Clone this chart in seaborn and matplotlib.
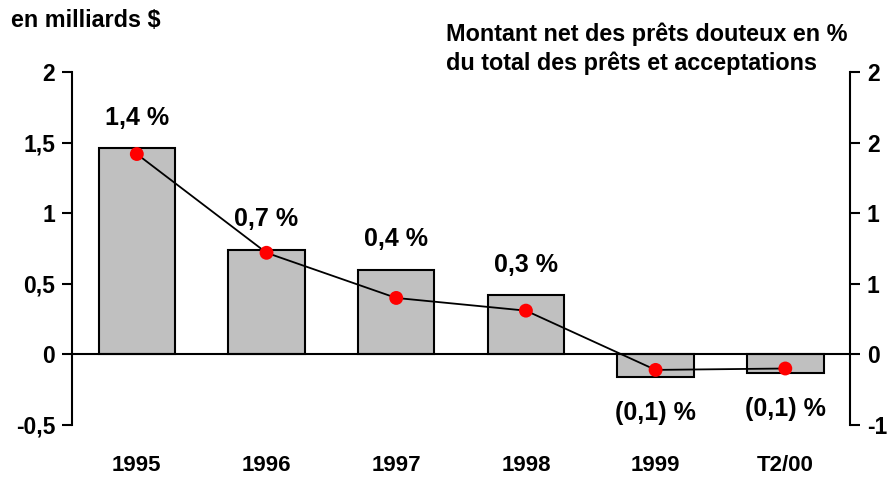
import numpy as np
import pandas as pd
import matplotlib
matplotlib.use("Agg")
import matplotlib.pyplot as plt
import seaborn as sns

# data
periods = ["1995", "1996", "1997", "1998", "1999", "T2/00"]
net_impaired_bn = [1.46, 0.74, 0.60, 0.42, -0.16, -0.13]   # bars, left axis
pct_of_loans = [1.42, 0.72, 0.40, 0.31, -0.11, -0.10]      # line, right axis
pct_labels = ["1,4 %", "0,7 %", "0,4 %", "0,3 %", "(0,1) %", "(0,1) %"]
left_ticks = [-0.5, 0, 0.5, 1, 1.5, 2]
left_ticklabels = ["-0,5", "0", "0,5", "1", "1,5", "2"]
right_ticklabels = ["-1", "0", "1", "1", "2", "2"]

sns.set_theme(style="white")
plt.rcParams["font.family"] = ["Liberation Sans", "DejaVu Sans"]
plt.rcParams["font.weight"] = "bold"
plt.rcParams["text.color"] = "black"
plt.rcParams["xtick.color"] = "black"
plt.rcParams["ytick.color"] = "black"

df = pd.DataFrame({"Period": periods, "Amount": net_impaired_bn})

fig = plt.figure(figsize=(8.93, 4.78), dpi=100)
ax = fig.add_axes([0.0806, 0.111, 0.8714, 0.738])

sns.barplot(data=df, x="Period", y="Amount", color="#C0C0C0", width=0.59,
            edgecolor="black", linewidth=1.5, saturation=1, ax=ax)
ax.set_xlim(-0.5, len(periods) - 0.5)
ax.set_ylim(-0.5, 2)
ax.axhline(0, color="black", lw=1.5, zorder=3)
ax.set_yticks(left_ticks)
ax.set_yticklabels(left_ticklabels)
ax.set_xlabel("")
ax.set_ylabel("")
ax.tick_params(axis="y", left=True, length=7, width=1.5, labelsize=16.5, pad=5)
ax.tick_params(axis="x", bottom=False, labelsize=16, pad=16)
for s in ["top", "right", "bottom"]:
    ax.spines[s].set_visible(False)
ax.spines["left"].set_linewidth(1.5)
ax.spines["left"].set_color("black")
for lbl in ax.get_xticklabels() + ax.get_yticklabels():
    lbl.set_fontweight("bold")

ax2 = ax.twinx()
xs = np.arange(len(periods))
sns.lineplot(x=xs, y=pct_of_loans, color="black", lw=1.3, ax=ax2, zorder=4)
sns.scatterplot(x=xs, y=pct_of_loans, color="red", s=100, edgecolor="none",
                ax=ax2, zorder=5)
ax2.set_xlim(-0.5, len(periods) - 0.5)
ax2.set_ylim(-0.5, 2)
ax2.set_yticks(left_ticks)
ax2.set_yticklabels(right_ticklabels)
ax2.tick_params(axis="y", right=True, length=7, width=1.5, labelsize=16.5, pad=5)
for s in ["top", "left", "bottom"]:
    ax2.spines[s].set_visible(False)
ax2.spines["right"].set_linewidth(1.5)
ax2.spines["right"].set_color("black")
for lbl in ax2.get_yticklabels():
    lbl.set_fontweight("bold")

# percentage labels above / below the bars
for i, (b, p, t) in enumerate(zip(net_impaired_bn, pct_of_loans, pct_labels)):
    if b >= 0:
        ax2.annotate(t, (i, max(b, p)), xytext=(0, 22), textcoords="offset points",
                     ha="center", va="center", fontsize=18, fontweight="bold")
    else:
        ax2.annotate(t, (i, min(b, p)), xytext=(0, -26), textcoords="offset points",
                     ha="center", va="center", fontsize=18, fontweight="bold")

fig.text(0.012, 0.958, "en milliards $", fontsize=16.8, fontweight="bold",
         va="center", ha="left")
fig.text(0.5, 0.898, "Montant net des prêts douteux en %\ndu total des prêts et acceptations",
         fontsize=16.8, fontweight="bold", va="center", ha="left", linespacing=1.35)

fig.savefig("out.png", dpi=100)
